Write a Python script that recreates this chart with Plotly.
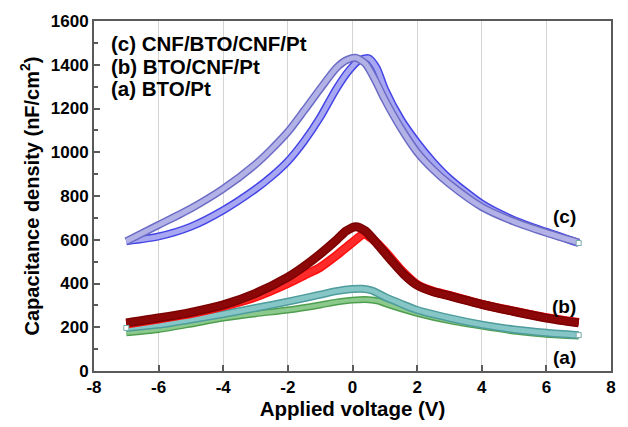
import plotly.graph_objects as go

# ---------------- data ----------------
# (c) CNF/BTO/CNF/Pt : two sweep branches
c_a_v = [-7, -6, -5, -4, -3, -2.5, -2, -1.5, -1, -0.5, -0.2, 0.1, 0.4, 0.7, 1, 1.5, 2, 2.5, 3, 4, 5, 6, 7]
c_a_c = [593, 668, 743, 833, 945, 1015, 1093, 1190, 1290, 1385, 1420, 1432, 1405, 1330, 1240, 1110, 1000, 920, 855, 750, 683, 632, 587]
c_b_v = [-7, -6, -5, -4, -3, -2.5, -2, -1.5, -1, -0.5, -0.1, 0.2, 0.5, 0.75, 1, 1.5, 2, 2.5, 3, 4, 5, 6, 7]
c_b_c = [593, 615, 660, 735, 832, 890, 959, 1050, 1160, 1290, 1375, 1420, 1430, 1385, 1290, 1150, 1045, 955, 880, 765, 690, 636, 585]

# (b) BTO/CNF/Pt
b_a_v = [-7, -6, -5, -4, -3, -2, -1.5, -1, -0.5, -0.2, 0.1, 0.4, 0.8, 1.2, 1.6, 2, 2.5, 3, 4, 5, 6, 7]
b_a_c = [220, 242, 268, 302, 355, 429, 478, 535, 598, 640, 660, 640, 575, 505, 440, 392, 362, 343, 305, 272, 242, 220]
b_b_v = [-7, -6, -5, -4, -3, -2, -1.5, -1, -0.5, 0, 0.35, 0.6, 1, 1.5, 2, 2.5, 3, 4, 5, 6, 7]
b_b_c = [215, 238, 262, 296, 338, 400, 437, 474, 528, 588, 625, 605, 548, 462, 395, 364, 346, 305, 274, 244, 222]

# (a) BTO/Pt
a_a_v = [-7, -6, -5, -4, -3, -2, -1, -0.5, 0, 0.3, 0.6, 1, 1.5, 2, 3, 4, 5, 6, 7]
a_a_c = [197, 212, 235, 260, 288, 317, 349, 365, 375, 376, 368, 339, 308, 279, 242, 212, 190, 175, 164]
a_b_v = [-7, -6, -5, -4, -3, -2, -1, -0.5, 0, 0.5, 0.8, 1, 1.5, 2, 3, 4, 5, 6, 7]
a_b_c = [175, 190, 215, 242, 262, 279, 302, 315, 324, 326, 320, 309, 285, 264, 230, 205, 183, 168, 160]

x_ticks = [-8, -6, -4, -2, 0, 2, 4, 6, 8]
y_ticks = [0, 200, 400, 600, 800, 1000, 1200, 1400, 1600]

legend_lines = ["(c) CNF/BTO/CNF/Pt", "(b) BTO/CNF/Pt", "(a) BTO/Pt"]
legend_y = [1497, 1394, 1290]
curve_labels = ["(c)", "(b)", "(a)"]
curve_label_y = [708, 296, 63]

FONT = "Liberation Sans, Arial, sans-serif"

fig = go.Figure()


def band(xv, yv, edge, fill, w_out=8, w_in=5):
    fig.add_trace(go.Scatter(x=xv, y=yv, mode="lines",
                             line=dict(color=edge, width=w_out, shape="spline", smoothing=0.7),
                             showlegend=False, hoverinfo="skip"))
    fig.add_trace(go.Scatter(x=xv, y=yv, mode="lines",
                             line=dict(color=fill, width=w_in, shape="spline", smoothing=0.7),
                             showlegend=False, hoverinfo="skip"))


# (c) blue
band(c_b_v, c_b_c, "#4444e6", "#a8a8f2")
band(c_a_v, c_a_c, "#6c6cc6", "#b2b2e6")
# (a) green + teal
band(a_b_v, a_b_c, "#4f9e4f", "#8cc98c", 7, 4)
band(a_a_v, a_a_c, "#4e9c9c", "#86c6c6")
# (b) red
band(b_b_v, b_b_c, "#ff1010", "#ff2a2a", 9, 6)
band(b_a_v, b_a_c, "#7c0000", "#8c0808", 9, 6)

# white end markers
fig.add_trace(go.Scatter(x=[a_a_v[0], a_a_v[-1], c_b_v[-1]], y=[a_a_c[0], a_a_c[-1], c_b_c[-1]],
                         mode="markers",
                         marker=dict(symbol="square", size=5, color="white",
                                     line=dict(color="#77aaaa", width=1)),
                         showlegend=False, hoverinfo="skip"))

for t, yy in zip(legend_lines, legend_y):
    fig.add_annotation(x=-7.55, y=yy, xref="x", yref="y", text=t, showarrow=False,
                       xanchor="left", yanchor="middle",
                       font=dict(family=FONT, size=20.5, color="black", weight="bold"))

for t, yy in zip(curve_labels, curve_label_y):
    fig.add_annotation(x=6.55, y=yy, xref="x", yref="y", text=t, showarrow=False,
                       xanchor="center", yanchor="middle",
                       font=dict(family=FONT, size=19, color="black", weight="bold"))

fig.update_layout(
    width=628, height=427,
    margin=dict(l=94, r=15, t=17, b=53),
    paper_bgcolor="white", plot_bgcolor="white",
    showlegend=False,
    font=dict(family=FONT, color="black"),
)
fig.update_xaxes(
    range=[-8, 8], tickvals=x_ticks, ticktext=[str(v) for v in x_ticks],
    showgrid=True, gridcolor="#d4d4d4", gridwidth=1, zeroline=False,
    showline=True, linecolor="#5a5a5a", linewidth=2, mirror=True,
    ticks="inside", ticklen=6, tickcolor="#5a5a5a", tickwidth=1.5,
    tickfont=dict(family=FONT, size=17, weight="bold"),
    title=dict(text="Applied voltage (V)", font=dict(family=FONT, size=20.5, weight="bold"), standoff=3),
)
fig.update_yaxes(
    range=[0, 1600], tickvals=y_ticks, ticktext=[str(v) for v in y_ticks],
    showgrid=False, zeroline=False,
    showline=True, linecolor="#5a5a5a", linewidth=2, mirror=True,
    ticks="inside", ticklen=6, tickcolor="#5a5a5a", tickwidth=1.5,
    minor=dict(ticks="inside", ticklen=4, dtick=100, tickcolor="#5a5a5a", showgrid=False),
    tickfont=dict(family=FONT, size=17, weight="bold"),
    title=dict(text="Capacitance density (nF/cm<sup>2</sup>)", font=dict(family=FONT, size=20, weight="bold"), standoff=6),
)

fig.write_html("out.html")
